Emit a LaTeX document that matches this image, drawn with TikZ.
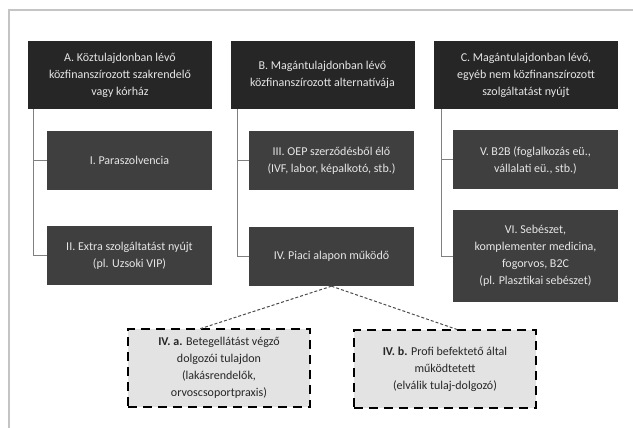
\documentclass[tikz,border=0pt]{standalone}
\usepackage{fontspec}
\setmainfont{Carlito}
\usetikzlibrary{calc}
\definecolor{headfill}{HTML}{262626}
\definecolor{subfill}{HTML}{3F3F3F}
\definecolor{boxtext}{HTML}{E6E6E6}
\definecolor{framegray}{HTML}{C4C4C4}
\definecolor{linkgray}{HTML}{808080}
\definecolor{dashfill}{HTML}{E3E3E3}
\tikzset{
  basebox/.style={rectangle, inner sep=2pt, align=center, text=boxtext,
    font=\fontsize{12}{17}\selectfont},
  headbox/.style={basebox, fill=headfill, minimum width=184pt, minimum height=68pt},
  subbox/.style={basebox, fill=subfill, minimum width=165pt, minimum height=59pt},
  dashbox/.style={rectangle, align=center, fill=dashfill, draw=black, line width=2.4pt,
    dash pattern=on 9pt off 6pt, text=black!85, minimum width=182pt, minimum height=78pt,
    font=\fontsize{12}{17}\selectfont},
  link/.style={draw=linkgray, line width=1pt},
  dlink/.style={draw=black!70, line width=1pt, dash pattern=on 3pt off 2pt},
}
\begin{document}
\begin{tikzpicture}[x=1pt,y=-1pt]
\useasboundingbox (0,0) rectangle (633,428);
\draw[framegray, line width=1.5pt] (9,428) -- (9,10) -- (633,10);

\node[headbox] (A) at (120,75) {A. Köztulajdonban lévő\\közfinanszírozott szakrendelő\\vagy kórház};
\node[headbox] (B) at (322.5,75) {B. Magántulajdonban lévő\\közfinanszírozott alternatívája};
\node[headbox] (C) at (526,75) {C. Magántulajdonban lévő,\\egyéb nem közfinanszírozott\\szolgáltatást nyújt};

\node[subbox] (I) at (129.5,160.5) {I. Paraszolvencia};
\node[subbox] (II) at (129.5,255.5) {II. Extra szolgáltatást nyújt\\(pl. Uzsoki VIP)};
\node[subbox] (III) at (331.5,160.5) {III. OEP szerződésből élő\\(IVF, labor, képalkotó, stb.)};
\node[subbox] (IV) at (331.5,256.5) {IV. Piaci alapon működő};
\node[subbox] (V) at (535.5,160) {V. B2B (foglalkozás eü.,\\vállalati eü., stb.)};
\node[subbox, minimum height=92pt] (VI) at (535.5,256) {VI. Sebészet,\\komplementer medicina,\\fogorvos, B2C\\(pl. Plasztikai sebészet)};

\node[dashbox] (IVa) at (219,368) {\textbf{IV. a.} Betegellátást végző\\dolgozói tulajdon\\(lakásrendelők,\\orvoscsoportpraxis)};
\node[dashbox] (IVb) at (445,369) {\textbf{IV. b.} Profi befektető által\\működtetett\\(elválik tulaj-dolgozó)};

\draw[link] ([xshift=6pt]A.south west) |- (I.west);
\draw[link] ([xshift=6pt]A.south west) |- (II.west);
\draw[link] ([xshift=7pt]B.south west) |- (III.west);
\draw[link] ([xshift=7pt]B.south west) |- (IV.west);
\draw[link] ([xshift=8pt]C.south west) |- (V.west);
\draw[link] ([xshift=8pt]C.south west) |- (VI.west);

\draw[dlink] (IV.south) -- ([xshift=-19pt,yshift=-1pt]IVa.north);
\draw[dlink] (IV.south) -- ([xshift=13pt,yshift=-1pt]IVb.north);
\end{tikzpicture}
\end{document}
